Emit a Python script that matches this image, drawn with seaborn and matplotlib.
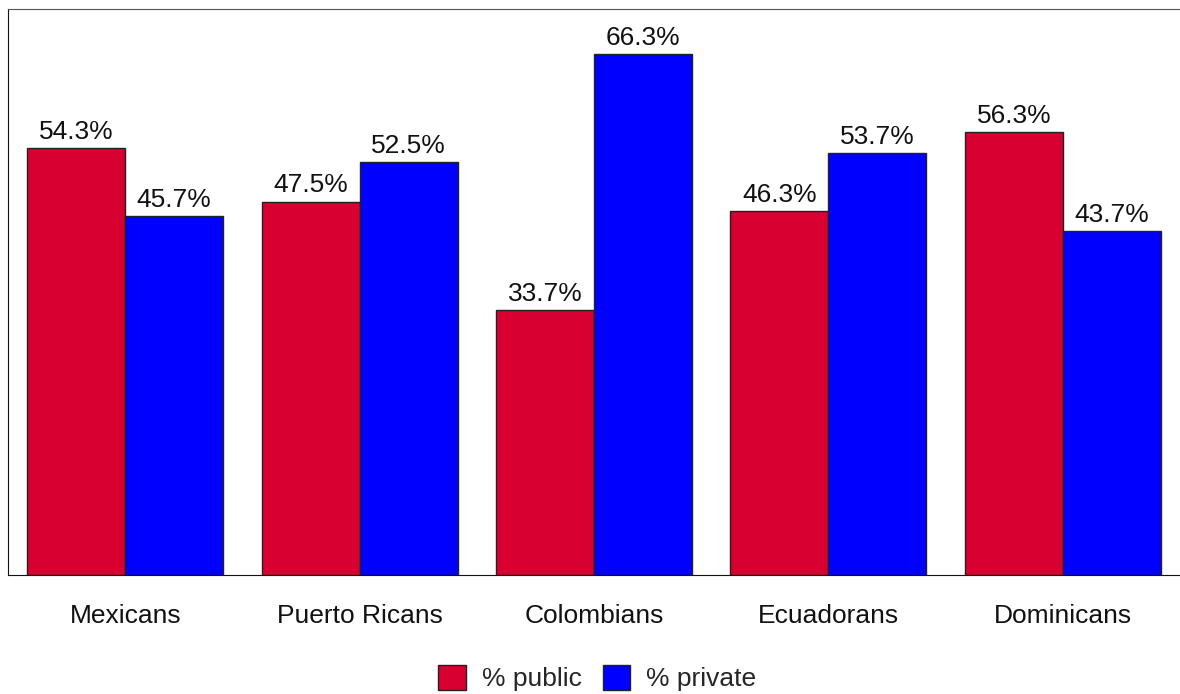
import pandas as pd
import matplotlib
matplotlib.use("Agg")
import matplotlib.pyplot as plt
import seaborn as sns

# data
groups = ["Mexicans", "Puerto Ricans", "Colombians", "Ecuadorans", "Dominicans"]
pct_public = [54.3, 47.5, 33.7, 46.3, 56.3]
pct_private = [45.7, 52.5, 66.3, 53.7, 43.7]
series_names = ["% public", "% private"]
series_colors = ["#D80030", "#0000FF"]

df = pd.DataFrame({
    "group": groups * 2,
    "value": pct_public + pct_private,
    "series": [series_names[0]] * len(groups) + [series_names[1]] * len(groups),
})

sns.set_style("white")
plt.rcParams["font.family"] = ["Liberation Sans", "DejaVu Sans"]

fig = plt.figure(figsize=(11.8, 6.94), dpi=100)
ax = fig.add_axes([8 / 1180, 1 - 575 / 694, 1 - 8 / 1180, (575 - 9) / 694])

sns.barplot(data=df, x="group", y="value", hue="series", order=groups,
            hue_order=series_names, palette=series_colors, width=0.836,
            edgecolor="#222222", linewidth=1.0, saturation=1, ax=ax)

for cont in ax.containers:
    ax.bar_label(cont, labels=[f"{v:.1f}%" for v in cont.datavalues],
                 padding=3, fontsize=19, color="#111111")

ax.set_ylim(0, 72)
ax.set_xlim(-0.5, len(groups) - 0.5)
ax.set_yticks([])
ax.set_xlabel("")
ax.set_ylabel("")
ax.tick_params(axis="x", length=0, pad=21, labelsize=19, colors="#111111")

for side in ["left", "bottom"]:
    ax.spines[side].set_color("#111111")
ax.spines["top"].set_color("#555555")
ax.spines["right"].set_visible(False)

ax.get_legend().remove()
handles, labels = ax.get_legend_handles_labels()
fig.legend(handles, labels, loc="lower center", bbox_to_anchor=(0.506, 0.0),
           ncol=2, frameon=False, fontsize=19, handlelength=1.05,
           handleheight=1.05, handletextpad=0.6, columnspacing=0.8,
           borderaxespad=0.0, borderpad=0.1)

fig.savefig("out.png", dpi=100)
